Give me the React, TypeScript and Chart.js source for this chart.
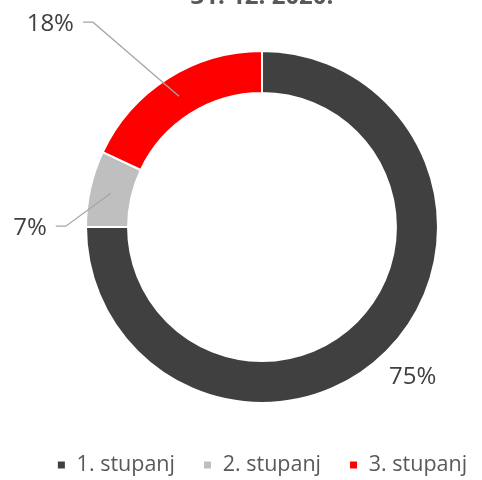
import React, { useEffect, useRef } from "react";
import { Chart, registerables } from "chart.js";

Chart.register(...registerables);

const TITLE = "31. 12. 2020.";
const CATEGORIES = ["1. stupanj", "2. stupanj", "3. stupanj"];
const VALUES = [75, 7, 18];
const COLORS = ["#404040", "#BFBFBF", "#FF0000"];

// label placement (style): leader elbow offset from the arc anchor, or radial distance for labels without a leader
const LABEL_STYLE = [
  { leader: false, radius: 213 },
  { leader: true, dx: -45, dy: 33 },
  { leader: true, dx: -86, dy: -74 },
];

const FONT = "'Open Sans', 'DejaVu Sans', sans-serif";

const labelPlugin = {
  id: "sliceLabels",
  afterDatasetsDraw(chart: any) {
    const ctx = chart.ctx;
    const meta = chart.getDatasetMeta(0);
    const data = chart.data.datasets[0].data as number[];
    const total = data.reduce((a, b) => a + b, 0);
    meta.data.forEach((arc: any, i: number) => {
      const p = arc.getProps(["x", "y", "startAngle", "endAngle", "innerRadius", "outerRadius"], true);
      const mid = (p.startAngle + p.endAngle) / 2;
      const rMid = (p.innerRadius + p.outerRadius) / 2;
      const ax = p.x + Math.cos(mid) * rMid;
      const ay = p.y + Math.sin(mid) * rMid;
      const text = Math.round((data[i] / total) * 100) + "%";
      const st: any = LABEL_STYLE[i];
      ctx.save();
      ctx.font = `24px ${FONT}`;
      ctx.fillStyle = "#404040";
      ctx.textBaseline = "middle";
      if (st.leader) {
        const ex = ax + st.dx;
        const ey = ay + st.dy;
        const lx = ex - 10;
        ctx.strokeStyle = "#A6A6A6";
        ctx.lineWidth = 1.3;
        ctx.beginPath();
        ctx.moveTo(ax, ay);
        ctx.lineTo(ex, ey);
        ctx.lineTo(lx, ey);
        ctx.stroke();
        ctx.textAlign = "right";
        ctx.fillText(text, lx - 9, ey + 2);
      } else {
        const tx = p.x + Math.cos(mid) * st.radius;
        const ty = p.y + Math.sin(mid) * st.radius;
        ctx.textAlign = "center";
        ctx.fillText(text, tx, ty);
      }
      ctx.restore();
    });
  },
};

export default function App() {
  const ref = useRef<HTMLCanvasElement>(null);
  useEffect(() => {
    if (!ref.current) return;
    const chart = new Chart(ref.current, {
      type: "doughnut",
      data: {
        labels: CATEGORIES,
        datasets: [
          {
            data: VALUES,
            backgroundColor: COLORS,
            borderColor: "#FFFFFF",
            borderWidth: 2,
            hoverOffset: 0,
          },
        ],
      },
      options: {
        responsive: false,
        animation: false,
        events: [],
        radius: 176,
        cutout: "76.1%",
        layout: { padding: { left: 0, right: 12, top: 0, bottom: 14.25 } },
        plugins: {
          tooltip: { enabled: false },
          title: {
            display: true,
            text: TITLE,
            color: "#595959",
            font: { family: FONT, size: 24, weight: "bold" },
            padding: { top: 23, bottom: 15.95 },
          },
          legend: {
            position: "bottom",
            labels: {
              boxWidth: 9,
              boxHeight: 9,
              padding: 28,
              color: "#595959",
              font: { family: FONT, size: 21.5 },
            },
          },
        },
      } as any,
      plugins: [labelPlugin],
    });
    return () => chart.destroy();
  }, []);
  return (
    <div style={{ position: "fixed", left: 0, top: 0, width: 482, height: 480, overflow: "hidden", background: "#fff" }}>
      <div style={{ position: "absolute", left: 0, top: -40, width: 536, height: 540 }}>
        <canvas ref={ref} width={536} height={540} style={{ display: "block" }} />
      </div>
    </div>
  );
}
